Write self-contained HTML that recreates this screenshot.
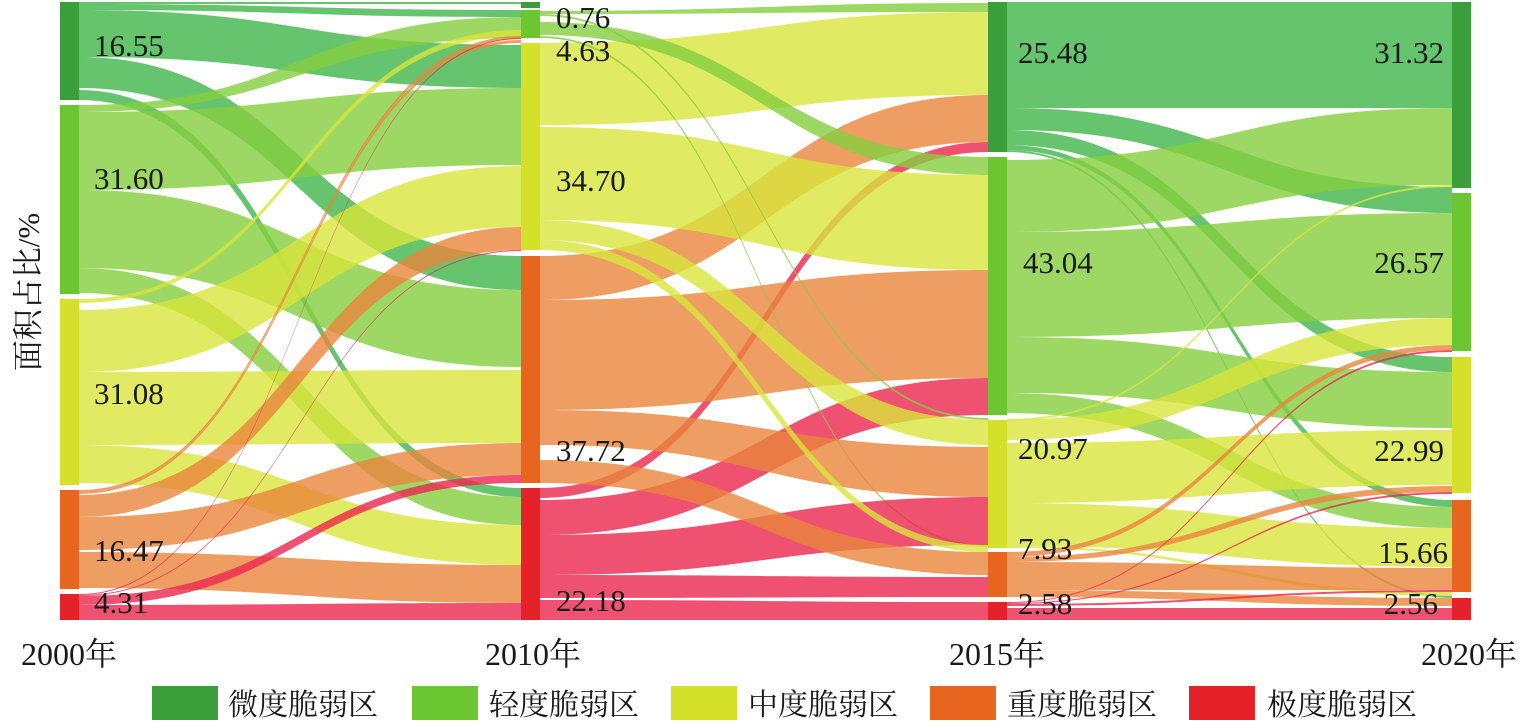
<!DOCTYPE html>
<html><head><meta charset="utf-8"><style>
html,body{margin:0;padding:0;background:#fff;}
svg{display:block;}
text{font-family:"Liberation Serif","Noto Serif CJK SC",serif;fill:#1a1a1a;}
</style></head><body>
<svg id="s" width="1522" height="728" xmlns="http://www.w3.org/2000/svg">
<g id="links" fill-opacity="0.8"></g>
<g id="nodes"></g>
<g font-size="31">
<text x="94" y="56">16.55</text>
<text x="94" y="189">31.60</text>
<text x="94" y="404">31.08</text>
<text x="94" y="561">16.47</text>
<text x="94" y="613">4.31</text>
<text x="556" y="28">0.76</text>
<text x="556" y="61">4.63</text>
<text x="556" y="191">34.70</text>
<text x="556" y="461">37.72</text>
<text x="556" y="611">22.18</text>
<text x="1018" y="63">25.48</text>
<text x="1023" y="273">43.04</text>
<text x="1018" y="459">20.97</text>
<text x="1018" y="559">7.93</text>
<text x="1018" y="614">2.58</text>
<text x="1444" y="63" text-anchor="end">31.32</text>
<text x="1444" y="273" text-anchor="end">26.57</text>
<text x="1444" y="461" text-anchor="end">22.99</text>
<text x="1448" y="563" text-anchor="end">15.66</text>
<text x="1438" y="614" text-anchor="end">2.56</text>
</g>
<g font-size="32">
<text x="21" y="665">2000年</text>
<text x="485" y="665">2010年</text>
<text x="949" y="665">2015年</text>
<text x="1421" y="665">2020年</text>
<text transform="translate(39,292) rotate(-90)" text-anchor="middle" font-size="31">面积占比/%</text>
</g>
<g font-size="30">
<rect x="152" y="686" width="66" height="34" fill="#3a9e3a"/><text x="228" y="715">微度脆弱区</text>
<rect x="412" y="686" width="66" height="34" fill="#6cc631"/><text x="489" y="715">轻度脆弱区</text>
<rect x="671" y="686" width="66" height="34" fill="#d4e02a"/><text x="748" y="715">中度脆弱区</text>
<rect x="930" y="686" width="66" height="34" fill="#e8651f"/><text x="1007" y="715">重度脆弱区</text>
<rect x="1189" y="686" width="66" height="34" fill="#e52229"/><text x="1267" y="715">极度脆弱区</text>
</g>
</svg>
<script>
var C={w:"rgb(64,181,74)",q:"rgb(132,206,63)",z:"rgb(216,229,59)",h:"rgb(234,134,60)",j:"rgb(235,39,76)"};
var N={w:"#3a9e3a",q:"#6cc631",z:"#d4e02a",h:"#e8651f",j:"#e52229"};
var X=[[79,521],[540,988],[1007,1452]];
var L=[
[0,"w",2,4,2,4],[0,"w",4,10,10,17],[0,"w",10,57,45,88],[0,"w",57,88,256,290],[0,"w",90,100,488,497],
[0,"q",105,112,17,38],[0,"q",112,190,88,165],[0,"q",190,268,290,367],[0,"q",268,293,497,525],
[0,"z",299,303,30,36],[0,"z",310,372,166,227],[0,"z",372,445,370,443],[0,"z",445,483,525,565],
[0,"h",490,492,36,39],[0,"h",492,494,40,43],[0,"h",495,517,227,250],[0,"h",517,550,443,475],[0,"h",552,588,565,603],
[0,"j",594,595,38,39],[0,"j",595,596,250,251],[0,"j",596,605,475,483],[0,"j",605,620,603,620],
[1,"q",11,14,3,12],[1,"z",43,125,12,95],[1,"h",256,300,95,142],[1,"j",488,498,142,152],
[1,"q",22,35,157,175],[1,"z",127,220,175,270],[1,"h",300,410,270,378],[1,"j",500,535,378,415],
[1,"q",14,16,418,420],[1,"q",36,38,545,547],
[1,"z",220,240,420,445],[1,"h",410,445,447,497],[1,"j",535,575,497,545],
[1,"z",240,250,545,552],[1,"h",460,483,552,575],[1,"j",575,598,577,597],[1,"j",600,620,602,620],
[2,"w",2,108,2,108],[2,"w",108,130,187,213],[2,"w",130,145,357,372],[2,"w",145,150,500,507],[2,"w",150,152,596,598],
[2,"q",160,232,108,185],[2,"q",232,337,213,318],[2,"q",337,393,372,428],[2,"q",393,413,507,528],
[2,"z",420,440,318,345],[2,"z",419,421,185,187],[2,"z",443,503,430,485],[2,"z",503,546,528,567],[2,"z",546,548,592,596],
[2,"h",552,557,345,350],[2,"h",557,562,486,492],[2,"h",562,590,568,590],[2,"h",590,597,598,606],
[2,"j",602,603,350,352],[2,"j",603,604,492,494],[2,"j",604,606,590,592],[2,"j",608,620,608,620]
];
var g=document.getElementById("links"),h="";
L.forEach(function(l){var x0=X[l[0]][0],x1=X[l[0]][1],m=(x0+x1)/2;
h+='<path fill="'+C[l[1]]+'" d="M'+x0+','+l[2]+'C'+m+','+l[2]+' '+m+','+l[4]+' '+x1+','+l[4]+'L'+x1+','+l[5]+'C'+m+','+l[5]+' '+m+','+l[3]+' '+x0+','+l[3]+'Z"/>';});
g.innerHTML=h;
var nodes=[[60,[["w",2,100],["q",105,294],["z",299,485],["h",490,589],["j",594,620]]],
[521,[["w",2,8],["q",10,38],["z",43,250],["h",256,483],["j",488,620]]],
[988,[["w",2,152],["q",157,415],["z",420,548],["h",552,597],["j",602,620]]],
[1452,[["w",2,188],["q",193,351],["z",357,493],["h",500,592],["j",598,620]]]];
var n="";nodes.forEach(function(c){c[1].forEach(function(b){n+='<rect x="'+c[0]+'" y="'+b[1]+'" width="19" height="'+(b[2]-b[1])+'" fill="'+N[b[0]]+'"/>';});});
document.getElementById("nodes").innerHTML=n;
</script>
</body></html>
